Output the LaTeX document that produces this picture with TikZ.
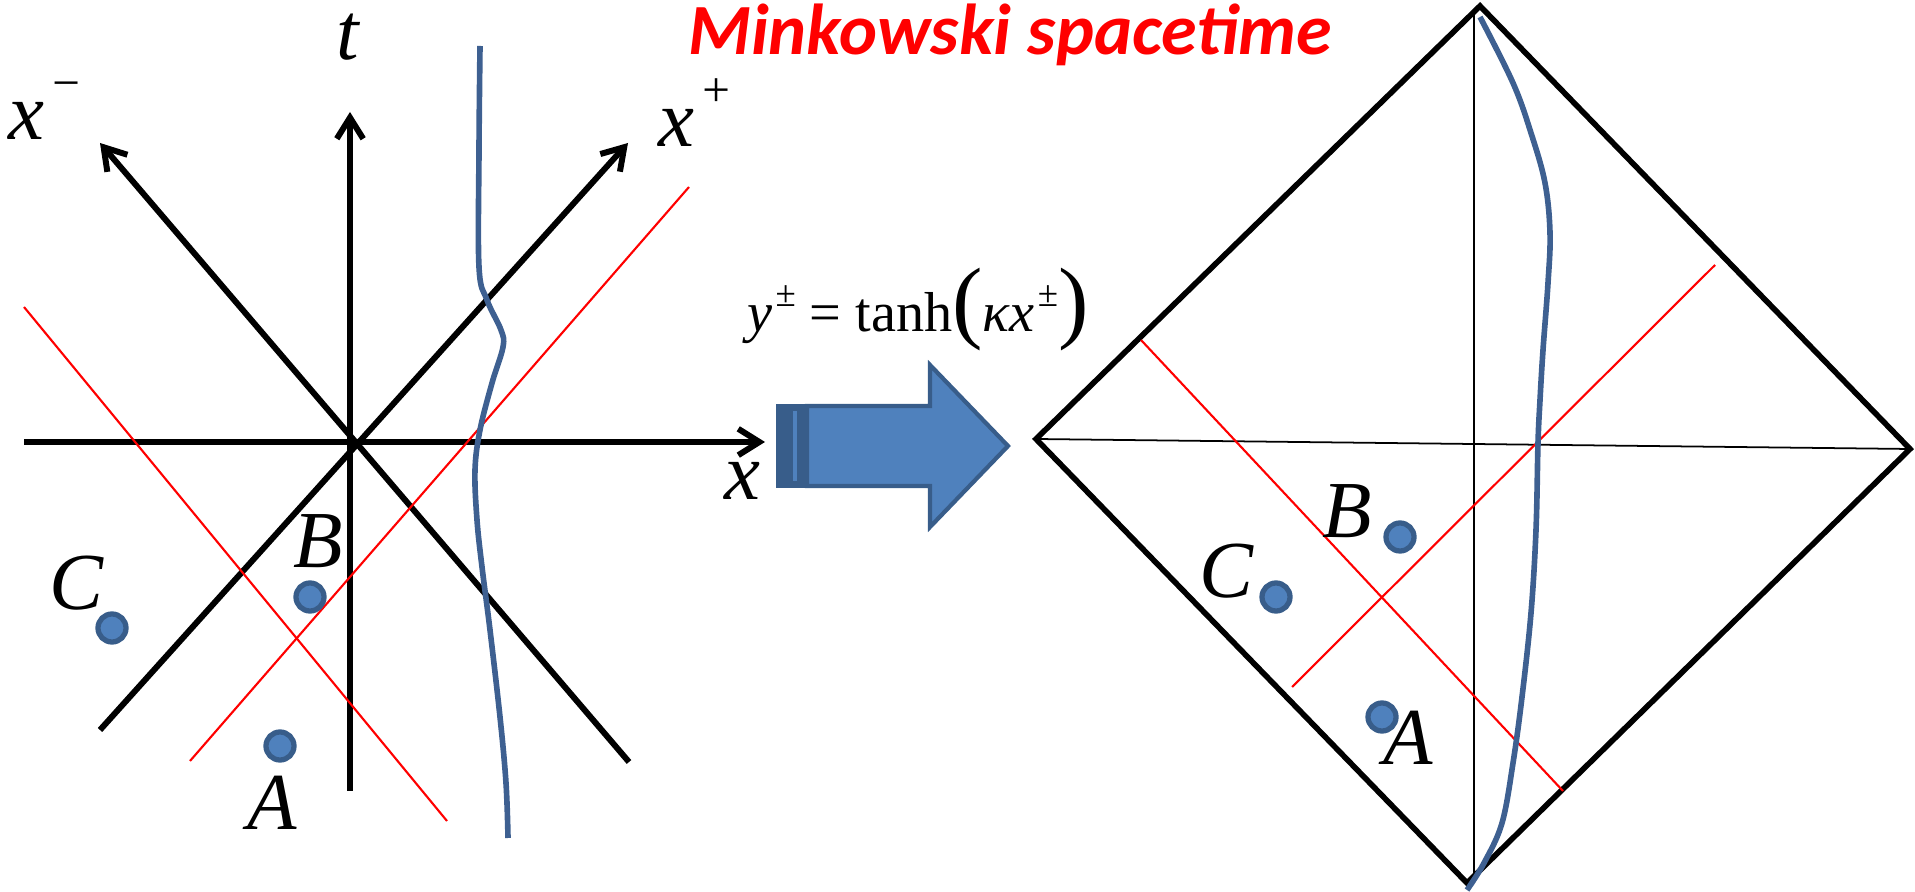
\documentclass[tikz,border=0pt]{standalone}
\usepackage{fontspec}
\setmainfont{Liberation Serif}
\newfontfamily\titlefont{Carlito}
\usetikzlibrary{arrows.meta}

\definecolor{dotBlue}{HTML}{4F81BD}
\definecolor{dotEdge}{HTML}{385D8A}
\definecolor{worldBlue}{RGB}{62,96,145}

\newcommand{\supSign}[1]{\hspace{1.5pt}\raisebox{0.5em}{\fontsize{14}{14}\selectfont #1}}
\newcommand{\mapSup}[1]{\hspace{0.8pt}\raisebox{0.45em}{\fontsize{10.5}{10.5}\selectfont #1}}

\begin{document}
\begin{tikzpicture}[x=0.01cm, y=-0.01cm,
  axisLine/.style={line width=1.7pt, -{Straight Barb[length=6pt,width=7.5pt]}},
  frameLine/.style={line width=1.6pt},
  thinLine/.style={line width=0.5pt},
  redLine/.style={red, line width=0.6pt},
  worldLine/.style={worldBlue, line width=1.6pt},
  eventDot/.style={circle, fill=dotBlue, draw=dotEdge, line width=1.5pt, minimum size=0.28cm, inner sep=0pt},
  pointLabel/.style={font=\fontsize{23}{23}\selectfont\itshape, anchor=base, inner sep=0pt}]

\useasboundingbox (0,0) rectangle (1915,892);

% left: Minkowski axes
\coordinate (xStart) at (24,442);
\coordinate (xEnd) at (765,442);
\coordinate (tStart) at (350,791);
\coordinate (tEnd) at (350,112);
\coordinate (minusStart) at (629,762);
\coordinate (minusEnd) at (100,143);
\coordinate (plusStart) at (100,730);
\coordinate (plusEnd) at (628,143);

\draw[axisLine] (xStart) -- (xEnd);
\draw[axisLine] (tStart) -- (tEnd);
\draw[axisLine] (minusStart) -- (minusEnd);
\draw[axisLine] (plusStart) -- (plusEnd);

\node[pointLabel] (tLabel) at (348,60) {t};
\node[pointLabel, anchor=base west] (xMinusLabel) at (8,140) {x\supSign{−}};
\node[pointLabel, anchor=base west] (xPlusLabel) at (658,147) {x\supSign{+}};
\node[pointLabel] (xLabel) at (742,500) {x};

% left: light rays
\coordinate (redMinusTop) at (24,307);
\coordinate (redMinusBottom) at (447,821);
\coordinate (redPlusTop) at (689,187);
\coordinate (redPlusBottom) at (190,761);
\draw[redLine] (redMinusTop) -- (redMinusBottom);
\draw[redLine] (redPlusTop) -- (redPlusBottom);

% left: world line
\draw[worldLine] plot[smooth, tension=0.6] coordinates {(480,46) (479,150) (479,267) (487,300)
  (501,330) (503,347) (492,383) (480,430) (475,470) (477,520) (482,567) (490,630)
  (500,717) (506,783) (508,838)};

% left: events
\node[eventDot] (leftC) at (112,628) {};
\node[eventDot] (leftB) at (310,597) {};
\node[eventDot] (leftA) at (280,746) {};
\node[pointLabel] (leftCLabel) at (76,610) {C};
\node[pointLabel] (leftBLabel) at (318,568) {B};
\node[pointLabel] (leftALabel) at (272,830) {A};

% map
\fill[dotBlue, draw=dotEdge, line width=1.2pt] (807,406) -- (930,406) -- (930,365) -- (1008,446)
  -- (930,527) -- (930,486) -- (807,486) -- cycle;
\fill[dotEdge, draw=dotEdge, line width=1.2pt] (778,406) rectangle (807,486);
\fill[dotBlue] (793,411) rectangle (797,481);

\node[anchor=base west, inner sep=0pt, font=\fontsize{16}{16}\selectfont] (mapLabel) at (747,332)
  {\textit{y}\mapSup{±} = tanh{\fontsize{26}{26}\selectfont(}\textit{κx}\mapSup{±}{\fontsize{26}{26}\selectfont)}};

\node[anchor=base, inner sep=0pt, text=red, font=\titlefont\fontsize{20.5}{20.5}\bfseries\itshape] (title) at (1010,55) {Minkowski spacetime};

% right: Penrose diamond
\coordinate (topVertex) at (1480,6);
\coordinate (rightVertex) at (1910,449);
\coordinate (bottomVertex) at (1467,883);
\coordinate (leftVertex) at (1036,439);
\coordinate (axisTop) at (1474,10);
\coordinate (axisBottom) at (1474,880);

\draw[frameLine] (topVertex) -- (rightVertex) -- (bottomVertex) -- (leftVertex) -- cycle;
\draw[thinLine] (leftVertex) -- (rightVertex);
\draw[thinLine] (axisTop) -- (axisBottom);

\coordinate (rayMinusTop) at (1141,340);
\coordinate (rayMinusBottom) at (1563,791);
\coordinate (rayPlusTop) at (1715,265);
\coordinate (rayPlusBottom) at (1292,687);
\draw[redLine] (rayMinusTop) -- (rayMinusBottom);
\draw[redLine] (rayPlusTop) -- (rayPlusBottom);

\draw[worldLine] plot[smooth, tension=0.6] coordinates {(1480,17) (1513,83) (1531,133) (1545,183)
  (1550,233) (1548,283) (1543,350) (1540,400) (1538,443) (1536,530) (1531,613)
  (1522,697) (1513,763) (1502,823) (1484,863) (1467,890)};

\node[eventDot] (rightB) at (1400,537) {};
\node[eventDot] (rightC) at (1276,597) {};
\node[eventDot] (rightA) at (1382,717) {};
\node[pointLabel] (rightBLabel) at (1347,538) {B};
\node[pointLabel] (rightCLabel) at (1226,598) {C};
\node[pointLabel] (rightALabel) at (1408,765) {A};

\end{tikzpicture}
\end{document}
